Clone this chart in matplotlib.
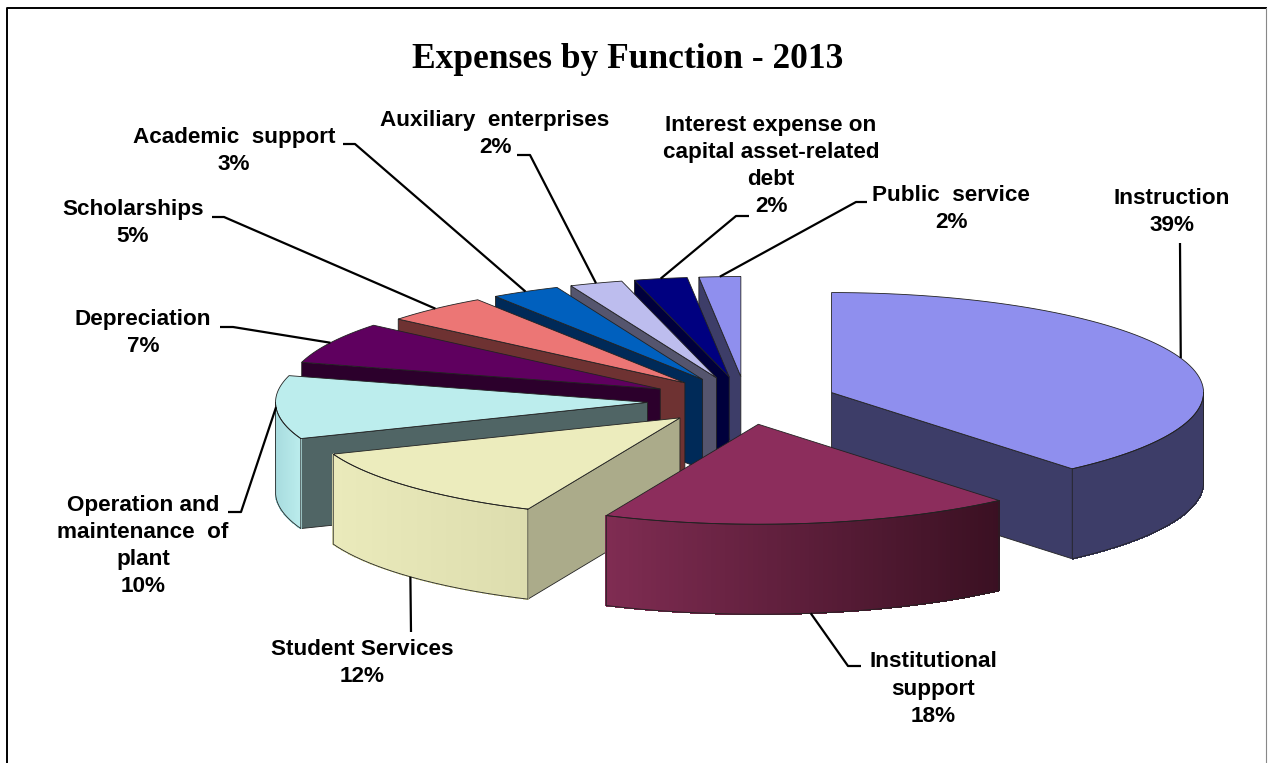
"""Expenses by function 2013, exploded 3-D pie drawn by hand on a flat axes."""
import matplotlib

matplotlib.use("Agg")
import matplotlib.pyplot as plt
import numpy as np
from matplotlib.colors import to_rgb
from matplotlib.patches import Polygon

CATEGORIES = [
    "Instruction",
    "Institutional\nsupport",
    "Student Services",
    "Operation and\nmaintenance  of\nplant",
    "Depreciation",
    "Scholarships",
    "Academic  support",
    "Auxiliary  enterprises",
    "Interest expense on\ncapital asset-related\ndebt",
    "Public  service",
]
# estimated shares, the labels show them rounded
PERCENT = [38.8, 17.9, 12.4, 10.2, 6.7, 4.6, 3.0, 2.3, 2.3, 1.8]

TOP_COLORS = ["#8F8FEE", "#8C2D5C", "#ECECBD", "#BCEDED", "#5F005F",
              "#EC7675", "#0060BE", "#BDBDEE", "#000080", "#8F8FEE"]
CUT_COLORS = ["#3D3D68", "#6A2245", "#ABAB8A", "#506565", "#2C002C",
              "#6E3232", "#002A58", "#55556E", "#00003C", "#3D3D68"]
# wall shading, left side then right side
WALL_LEFT = ["#3D3D68", "#7F2C52", "#EAEABB", "#A8DCDF", "#2C002C",
             "#6E3232", "#002A58", "#55556E", "#00003C", "#3D3D68"]
WALL_RIGHT = ["#3D3D68", "#3A1022", "#DDDDAE", "#BCEDED", "#2C002C",
              "#6E3232", "#002A58", "#55556E", "#00003C", "#3D3D68"]

# back to front, so nearer slices paint over the others
DRAW_ORDER = [0, 9, 8, 7, 6, 5, 4, 3, 2, 1]

# pie geometry in pixels
CX, CY = 746, 401
RX, RY = 372, 100
HEIGHT = 90
EXPLODE = [0.245, 0.235, 0.245, 0.265, 0.26, 0.245, 0.245, 0.245, 0.245, 0.245]

# label centre, leader elbow points from label towards the slice
LABEL_POS = [
    (1172, 212), (933, 689), (362, 663), (143, 546), (143, 333),
    (133, 223), (234, 151), (495, 134), (771, 166), (951, 209),
]
LEADERS = [
    [(1180, 243)],
    [(861, 666), (848, 666)],
    [(411, 632)],
    [(228, 512), (241, 512)],
    [(220, 327), (233, 327)],
    [(212, 217), (224, 217)],
    [(343, 144), (355, 144)],
    [(517, 155), (530, 155)],
    [(749, 216), (736, 216)],
    [(867, 202), (856, 202)],
]
LEADER_ON_BASE = [False, True, True, False, False, False, False, False, False, False]


def rim(a, cx, cy):
    return cx + RX * np.sin(a), cy - RY * np.cos(a)


def draw_slice(ax, start, end, cx, cy, top, cut, wall_l, wall_r):
    edge = dict(edgecolor="#222222", linewidth=0.6)
    ts = np.linspace(start, end, 80)
    xs, ys = rim(ts, cx, cy)

    # cut faces, only the ones turned to the viewer
    for a, visible in ((start, np.sin(start) < 0), (end, np.sin(end) > 0)):
        if visible:
            x, y = rim(a, cx, cy)
            ax.add_patch(Polygon([(cx, cy), (x, y), (x, y + HEIGHT), (cx, cy + HEIGHT)],
                                 facecolor=cut, **edge))

    # outer wall, front half only, split in strips for the shading
    lo, hi = max(start, np.pi / 2), min(end, 3 * np.pi / 2)
    if lo < hi:
        tw = np.linspace(lo, hi, 90)
        xw, yw = rim(tw, cx, cy)
        c_l, c_r = np.array(to_rgb(wall_l)), np.array(to_rgb(wall_r))
        left, right = xw.min(), xw.max()
        for i in range(len(tw) - 1):
            f = ((xw[i] + xw[i + 1]) / 2 - left) / max(right - left, 1)
            col = c_l + (c_r - c_l) * f
            ax.add_patch(Polygon([(xw[i], yw[i]), (xw[i + 1], yw[i + 1]),
                                  (xw[i + 1], yw[i + 1] + HEIGHT), (xw[i], yw[i] + HEIGHT)],
                                 facecolor=col, edgecolor=col, linewidth=0.6, antialiased=False))
        ax.plot(np.r_[xw, xw[::-1], xw[0]], np.r_[yw, yw[::-1] + HEIGHT, yw[0]],
                color="#222222", lw=0.6)

    ax.add_patch(Polygon(np.c_[np.r_[cx, xs], np.r_[cy, ys]], facecolor=top, **edge))


def main() -> None:
    fig = plt.figure(figsize=(12.68, 7.63), dpi=100)
    ax = fig.add_axes([0, 0, 1, 1])
    ax.set_xlim(0, 1268)
    ax.set_ylim(763, 0)
    ax.axis("off")

    # border has no bottom edge in the source
    ax.plot([7, 7, 1266], [763, 8, 8], color="black", lw=1.4)
    ax.plot([1266, 1266], [8, 763], color="#888888", lw=0.8)

    values = np.array(PERCENT, dtype=float)
    edges = np.r_[0, np.cumsum(values)] / values.sum() * 2 * np.pi
    mids = (edges[:-1] + edges[1:]) / 2
    explode = np.array(EXPLODE)
    centers_x = CX + explode * RX * np.sin(mids)
    centers_y = CY - explode * RY * np.cos(mids)

    for i in DRAW_ORDER:
        draw_slice(ax, edges[i], edges[i + 1], centers_x[i], centers_y[i],
                   TOP_COLORS[i], CUT_COLORS[i], WALL_LEFT[i], WALL_RIGHT[i])

    for i, name in enumerate(CATEGORIES):
        x, y = rim(mids[i], centers_x[i], centers_y[i])
        if LEADER_ON_BASE[i]:
            y += HEIGHT
        pts = LEADERS[i] + [(x, y)]
        ax.plot([p[0] for p in pts], [p[1] for p in pts], color="black", lw=1.6,
                solid_joinstyle="round", solid_capstyle="butt")
        ax.text(LABEL_POS[i][0], LABEL_POS[i][1], f"{name}\n{PERCENT[i]:.0f}%", ha="center", va="center",
                family="Liberation Sans", fontweight="bold", fontsize=16.2, linespacing=1.39,
                color="black")

    ax.text(628, 59, "Expenses by Function - 2013", ha="center", va="center",
            family="Liberation Serif", fontweight="bold", fontsize=25.5, color="black")

    fig.savefig("out.png", dpi=100)
    plt.close(fig)


if __name__ == "__main__":
    main()
